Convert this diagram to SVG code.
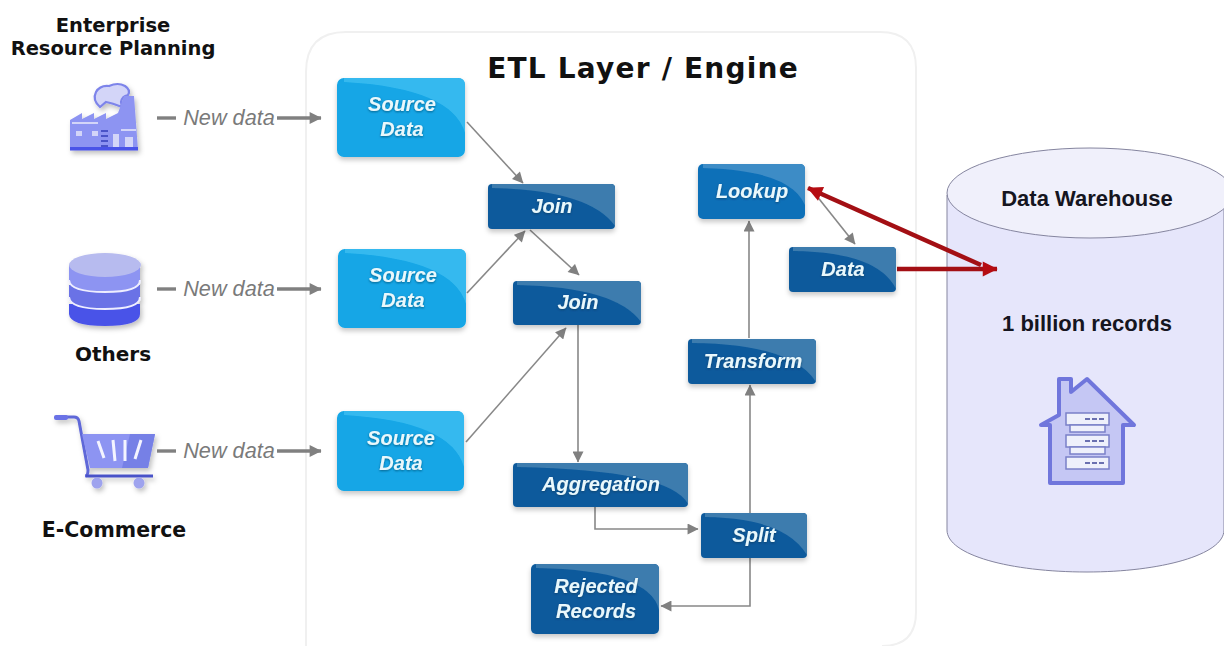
<svg xmlns="http://www.w3.org/2000/svg" width="1224" height="646" viewBox="0 0 1224 646">
<defs>
<filter id="sh" x="-15%" y="-15%" width="130%" height="140%"><feDropShadow dx="0" dy="3" stdDeviation="2.5" flood-color="#000" flood-opacity="0.22"/></filter>
<filter id="ic" x="-15%" y="-15%" width="135%" height="135%"><feDropShadow dx="2" dy="3" stdDeviation="2.5" flood-color="#000" flood-opacity="0.25"/></filter>
<filter id="ts" x="-10%" y="-20%" width="120%" height="150%"><feDropShadow dx="0" dy="1" stdDeviation="0.8" flood-color="#03324f" flood-opacity="0.6"/></filter>
<marker id="ag" viewBox="0 0 10 10" refX="9.5" refY="5" markerUnits="userSpaceOnUse" markerWidth="12" markerHeight="11" orient="auto"><path d="M0 0L10 5L0 10z" fill="#808080"/></marker>
<marker id="al" viewBox="0 0 10 10" refX="9.5" refY="5" markerUnits="userSpaceOnUse" markerWidth="13" markerHeight="12" orient="auto"><path d="M0 0L10 5L0 10z" fill="#808080"/></marker>
<marker id="ar" viewBox="0 0 10 10" refX="9.5" refY="5" markerUnits="userSpaceOnUse" markerWidth="15" markerHeight="15" orient="auto" overflow="visible"><path d="M0 0L10 5L0 10z" fill="#b50c12"/></marker>
<style>
.lbl{font-family:"DejaVu Sans",sans-serif;font-weight:700;fill:#111;text-anchor:middle}
.nd{font-family:"Liberation Sans",Arial,sans-serif;font-weight:700;font-style:italic;font-size:20px;fill:#e9f8fc;text-anchor:middle;filter:url(#ts)}
.nw{font-family:"Liberation Sans",Arial,sans-serif;font-style:italic;font-size:21.7px;fill:#7a7a7a;text-anchor:middle}
.dw{font-family:"Liberation Sans",Arial,sans-serif;font-weight:700;font-size:22px;fill:#151520;text-anchor:middle}
.lt{fill:#13a6e6}.ltx{fill:#36b9ef}.dk{fill:#0d5a9c}.dkx{fill:#3c7bae}.md{fill:#1070b8}.mdx{fill:#3e8cc6}
.c{fill:none;stroke:#888;stroke-width:1.6;marker-end:url(#ag)}
.l{fill:none;stroke:#808080;stroke-width:3.4;marker-end:url(#al)}
.p{fill:none;stroke:#808080;stroke-width:3.4}
.r{fill:none;stroke:#a30f14;stroke-width:4.5}
.i1{fill:#8d94f2}.i2{fill:#6a72e6}.i3{fill:#d3d5f8}.i4{fill:#4a52e8}
</style>
</defs>
<rect width="1224" height="646" fill="#fff"/>
<path id="etl-panel" d="M306 646V72Q306 32 346 32H880Q916 32 916 68V612Q916 646 882 646" fill="#fff" stroke="#f0f0f0" stroke-width="2"/>
<text class="lbl" x="113" y="32" font-size="19.5">Enterprise</text>
<text class="lbl" x="113" y="55" font-size="19.5">Resource Planning</text>
<text class="lbl" x="113" y="361" font-size="20">Others</text>
<text class="lbl" x="114" y="537" font-size="20.5">E-Commerce</text>
<text class="lbl" x="643" y="78" font-size="28" letter-spacing="1.2">ETL Layer / Engine</text>
<g id="factory" filter="url(#ic)">
<path class="i3" d="M100 107Q92 100 96 92Q100 85 109 86Q118 82 125 86Q131 90 128 95Q122 96 121 102L122 107Q112 103 106 102Z" stroke="#7d84ea" stroke-width="2.2"/>
<path class="i1" d="M70 150V120L82 113V119L94 113V119L106 113V119L118 113L124 96H134L138 150Z"/>
<rect class="i3" x="72" y="122" width="26" height="2"/><rect class="i3" x="121" y="129" width="15" height="2"/>
<rect class="i3" x="76" y="131" width="6" height="5"/><rect class="i3" x="92" y="131" width="6" height="5"/>
<path d="M101 131h7M101 136h7M101 141h7M101 146h7" stroke="#4a52c8" stroke-width="2"/>
<path d="M113 150V134H119V150M125 150V137H133V150" fill="#d3d5f8"/>
<rect class="i4" x="70" y="147" width="68" height="3.5"/>
</g>
<g id="others" filter="url(#ic)">
<path class="i4" d="M69 304V314Q70 326 105 326Q140 326 140 314V304Z"/>
<path class="i2" d="M69 285V298Q70 309 105 309Q140 309 140 298V285Z" fill="#7a85ea"/>
<path class="i1" d="M69 265V280Q70 292 105 292Q140 292 140 280V265Z"/>
<path d="M69 280Q70 292 105 292Q140 292 140 280M69 297Q70 309 105 309Q140 309 140 297" fill="none" stroke="#eef" stroke-width="2"/>
<ellipse cx="105" cy="265" rx="36" ry="12" fill="#b7bbef"/>
</g>
<g id="cart" filter="url(#ic)">
<path d="M56 417H74Q78 417 79 421L88 470Q88 476 85 476" fill="none" stroke="#5f67d8" stroke-width="3"/>
<rect x="54" y="415" width="14" height="5" rx="2" class="i2"/>
<path d="M82 434H155L148 468H90Z" class="i1"/>
<path d="M130 434H155L148 468H122Z" fill="#7680e6"/>
<path d="M98 441L104 458M113 440L115 461M125 440V461M141 440L135 459" stroke="#f4f4ff" stroke-width="3" fill="none"/>
<path d="M86 476H153" stroke="#4a52c8" stroke-width="3"/>
<circle cx="97" cy="483" r="5.5" fill="#9ea3ee"/><circle cx="139" cy="483" r="5.5" fill="#9ea3ee"/>
</g>
<g id="connectors">
<path class="p" d="M157 118H176"/><path class="l" d="M277 118H321"/>
<path class="p" d="M157 289H176"/><path class="l" d="M277 289H321"/>
<path class="p" d="M157 451H176"/><path class="l" d="M277 451H321"/>
<path class="c" d="M467 122L523 183"/>
<path class="c" d="M467 293L525 231"/>
<path class="c" d="M530 230L579 275"/>
<path class="c" d="M466 442L566 328"/>
<path class="c" d="M578 324V462"/>
<path class="c" d="M595 507V529H698"/>
<path class="c" d="M750 513V385"/>
<path class="c" d="M750 558V606H661"/>
<path class="c" d="M749 338V221"/>
<path class="c" d="M812 190L855 244"/>
</g>
<g id="warehouse">
<path d="M947 195V530C947 555 1010 572 1087 572C1160 572 1224 555 1224 530V195Z" fill="#e6e6fb" stroke="#85859f" stroke-width="1"/>
<ellipse cx="1090" cy="193" rx="143" ry="45" fill="#f0f0fb" stroke="#85859f" stroke-width="1"/>
<text class="dw" x="1087" y="206">Data Warehouse</text>
<text class="dw" x="1087" y="331">1 billion records</text>
<g id="warehouse-icon">
<path d="M1059 415V379H1071V392L1087 379L1134 425H1123V483H1050V425H1041Z" fill="#c5c7f4" stroke="#7076dc" stroke-width="4" stroke-linejoin="round"/>
<g fill="#eef0fb" stroke="#7a80c8" stroke-width="1.5">
<rect x="1066" y="413" width="43" height="12"/><rect x="1070" y="425" width="35" height="7"/><rect x="1066" y="435" width="43" height="12"/><rect x="1070" y="447" width="35" height="7"/><rect x="1066" y="457" width="43" height="12"/>
</g>
<path d="M1085 419h20M1085 441h20M1085 463h20" stroke="#6a70b0" stroke-width="2" stroke-dasharray="5 2"/>
</g>
</g>
<g id="red-connectors">
<path class="r" d="M897 269H997" marker-end="url(#ar)"/>
<path class="r" d="M981 265L808 188" marker-end="url(#ar)"/>
</g>
<g id="source-1" filter="url(#sh)"><rect class="lt" x="337" y="78" width="128" height="79" rx="7"/><path class="ltx" d="M344 78H458Q465 78 465 85V133Q452 88 344 82Z"/><text class="nd" x="402" y="111">Source</text><text class="nd" x="402" y="136">Data</text></g>
<g id="source-2" filter="url(#sh)"><rect class="lt" x="338" y="249" width="128" height="79" rx="7"/><path class="ltx" d="M345 249H459Q466 249 466 256V304Q453 259 345 253Z"/><text class="nd" x="403" y="282">Source</text><text class="nd" x="403" y="307">Data</text></g>
<g id="source-3" filter="url(#sh)"><rect class="lt" x="337" y="411" width="127" height="80" rx="7"/><path class="ltx" d="M344 411H457Q464 411 464 418V467Q451 421 344 415Z"/><text class="nd" x="401" y="445">Source</text><text class="nd" x="401" y="470">Data</text></g>
<g id="join-1" filter="url(#sh)"><rect class="dk" x="488" y="184" width="127" height="45" rx="4"/><path class="dkx" d="M492 184H611Q615 184 615 188V226Q590 190 492 188Z"/><text class="nd" x="552" y="213">Join</text></g>
<g id="join-2" filter="url(#sh)"><rect class="dk" x="513" y="281" width="128" height="44" rx="4"/><path class="dkx" d="M517 281H637Q641 281 641 285V322Q616 287 517 285Z"/><text class="nd" x="578" y="309">Join</text></g>
<g id="aggregation" filter="url(#sh)"><rect class="dk" x="513" y="463" width="175" height="44" rx="4"/><path class="dkx" d="M517 463H684Q688 463 688 467V504Q670 470 517 467Z"/><text class="nd" x="601" y="491">Aggregation</text></g>
<g id="split" filter="url(#sh)"><rect class="dk" x="701" y="513" width="106" height="45" rx="4"/><path class="dkx" d="M705 513H803Q807 513 807 517V555Q785 518 705 517Z"/><text class="nd" x="754" y="542">Split</text></g>
<g id="rejected" filter="url(#sh)"><rect class="dk" x="531" y="564" width="128" height="70" rx="5"/><path class="dkx" d="M536 564H654Q659 564 659 569V610Q650 570 536 568Z"/><text class="nd" x="596" y="593">Rejected</text><text class="nd" x="596" y="618">Records</text></g>
<g id="transform" filter="url(#sh)"><rect class="dk" x="688" y="339" width="128" height="45" rx="4"/><path class="dkx" d="M692 339H812Q816 339 816 343V382Q792 344 692 343Z"/><text class="nd" x="753" y="368">Transform</text></g>
<g id="lookup" filter="url(#sh)"><rect class="md" x="698" y="164" width="107" height="55" rx="5"/><path class="mdx" d="M703 164H800Q805 164 805 169V205Q790 170 703 168Z"/><text class="nd" x="752" y="198">Lookup</text></g>
<g id="data" filter="url(#sh)"><rect class="dk" x="789" y="247" width="107" height="45" rx="4"/><path class="dkx" d="M793 247H892Q896 247 896 251V289Q878 252 793 251Z"/><text class="nd" x="843" y="276">Data</text></g>
<text class="nw" x="229" y="125">New data</text>
<text class="nw" x="229" y="296">New data</text>
<text class="nw" x="229" y="458">New data</text>
</svg>
